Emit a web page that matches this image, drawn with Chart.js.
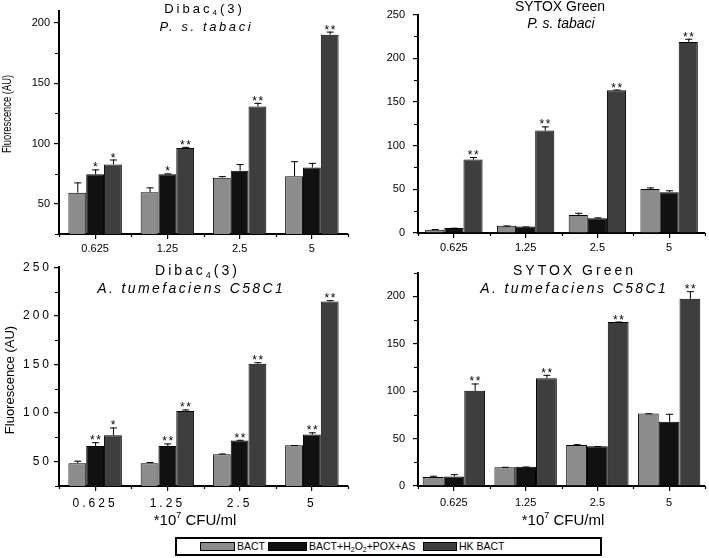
<!DOCTYPE html>
<html>
<head>
<meta charset="utf-8">
<script src="https://cdn.jsdelivr.net/npm/chart.js@4.4.0/dist/chart.umd.min.js"></script>
<style>
  body { margin: 0; background: #fff; width: 709px; height: 558px; position: relative; overflow: hidden; font-family: "Liberation Sans", Arial, sans-serif; }
  canvas { position: absolute; }
  #legend { position: absolute; left: 175px; top: 537px; width: 423px; height: 15px; border: 2px solid #000; background: #fff; }
  #legend .sw { position: absolute; top: 3px; height: 7px; border: 1px solid #000; }
  #legend .lb { position: absolute; top: 0; font-size: 10.5px; line-height: 15px; color: #000; white-space: nowrap; }
  #legend sub { font-size: 7px; vertical-align: -2px; line-height: 0; }
</style>
</head>
<body>
<canvas id="c1" width="354" height="258" style="left:0;top:0"></canvas>
<canvas id="c2" width="355" height="258" style="left:354px;top:0"></canvas>
<canvas id="c3" width="354" height="272" style="left:0;top:258px"></canvas>
<canvas id="c4" width="355" height="272" style="left:354px;top:258px"></canvas>
<div id="legend">
  <span class="sw" style="left:23px;width:33px;background:#8c8c8c"></span><span class="lb" style="left:60px">BACT</span>
  <span class="sw" style="left:91px;width:37px;background:#111"></span><span class="lb" style="left:132px">BACT+H<sub>2</sub>O<sub>2</sub>+POX+AS</span>
  <span class="sw" style="left:246px;width:32px;background:#3e3e3e"></span><span class="lb" style="left:282px">HK BACT</span>
</div>
<script>
const doses = ['0.625', '1.25', '2.5', '5'];
const seriesNames = ['BACT', 'BACT+H2O2+POX+AS', 'HK BACT'];
const seriesColors = ['#8c8c8c', '#111111', '#3e3e3e'];

// Dibac4(3) - P. s. tabaci
const dibacPsBact = [59.3, 59.6, 71.7, 73];
const dibacPsBactErr = [8.5, 4.1, 1.3, 12.4];
const dibacPsPox = [74.5, 74.5, 77.5, 80.2];
const dibacPsPoxErr = [4.1, 0.8, 5.5, 3.8];
const dibacPsHk = [82.7, 96.4, 130.8, 190.4];
const dibacPsHkErr = [4.1, 0.9, 3, 2.5];
const dibacPsPoxSig = ['*', '*', '', ''];
const dibacPsHkSig = ['*', '**', '**', '**'];

// SYTOX Green - P. s. tabaci
const sytoxPsBact = [3.7, 8.2, 20.5, 50.4];
const sytoxPsBactErr = [0.8, 0.4, 2.6, 1.8];
const sytoxPsPox = [5.6, 7.5, 16.8, 46.6];
const sytoxPsPoxErr = [0.4, 0, 1.1, 2.3];
const sytoxPsHk = [84, 117.2, 163.4, 218.6];
const sytoxPsHkErr = [3, 4.8, 0.8, 3.8];
const sytoxPsHkSig = ['**', '**', '**', '**'];

// Dibac4(3) - A. tumefaciens C58C1
const dibacAtBact = [48.3, 48.3, 57.7, 66.8];
const dibacAtBactErr = [2.7, 1.4, 0.7, 0.3];
const dibacAtPox = [66.1, 66.1, 71.8, 77.9];
const dibacAtPoxErr = [4, 2.7, 0.7, 2.3];
const dibacAtHk = [77.2, 102, 150.7, 214.8];
const dibacAtHkErr = [8, 1.7, 1.6, 1.3];
const dibacAtPoxSig = ['**', '**', '**', '**'];
const dibacAtHkSig = ['*', '**', '**', '**'];

// SYTOX Green - A. tumefaciens C58C1
const sytoxAtBact = [9.4, 19.9, 43.1, 76.4];
const sytoxAtBactErr = [1.4, 0.3, 1, 0.3];
const sytoxAtPox = [10.1, 20.2, 41.8, 67.7];
const sytoxAtPoxErr = [2.4, 0.3, 0.3, 8.4];
const sytoxAtHk = [100.3, 113.5, 173, 197.3];
const sytoxAtHkErr = [7.8, 3.7, 0.4, 8.1];
const sytoxAtHkSig = ['**', '**', '**', '**'];

const noSig = ['', '', '', ''];
const FONT = '"Liberation Sans", Arial, sans-serif';

// draw a line of text made of runs (normal / subscript / superscript), centred at cx
function drawRuns(ctx, runs, cx, cy, size, spacing, italic) {
  ctx.save();
  ctx.letterSpacing = spacing + 'px';
  ctx.fillStyle = '#000';
  ctx.textAlign = 'left';
  ctx.textBaseline = 'middle';
  const fontFor = r => (italic ? 'italic ' : '') + (r.sub || r.sup ? Math.round(size * 0.62) : size) + 'px ' + FONT;
  const widths = runs.map(r => { ctx.font = fontFor(r); return ctx.measureText(r.t).width; });
  let x = cx - widths.reduce((a, b) => a + b, 0) / 2 + spacing / 2;
  runs.forEach((r, k) => {
    ctx.font = fontFor(r);
    const dy = r.sub ? size * 0.3 : r.sup ? -size * 0.35 : 0;
    ctx.fillText(r.t, x, cy + dy);
    x += widths[k];
  });
  ctx.restore();
}

const annot = {
  id: 'annot',
  beforeDraw(chart, args, o) {
    chart.ctx.letterSpacing = (o.tickSpacing || 0) + 'px';
  },
  afterDatasetsDraw(chart, args, o) {
    const ctx = chart.ctx;
    const ys = chart.scales.y;
    ctx.save();
    ctx.letterSpacing = '0px';
    ctx.strokeStyle = '#000';
    ctx.lineWidth = 1;
    chart.data.datasets.forEach((ds, i) => {
      chart.getDatasetMeta(i).data.forEach((bar, j) => {
        const top = ys.getPixelForValue(ds.data[j] + o.err[i][j]);
        ctx.beginPath();
        ctx.moveTo(bar.x + 0.5, bar.y);
        ctx.lineTo(bar.x + 0.5, top);
        ctx.moveTo(bar.x - 3, top + 0.5);
        ctx.lineTo(bar.x + 4, top + 0.5);
        ctx.stroke();
        const s = o.sig[i][j];
        if (s) {
          ctx.letterSpacing = '1.5px';
          ctx.font = '12px ' + FONT;
          ctx.fillStyle = '#000';
          ctx.textAlign = 'center';
          ctx.textBaseline = 'alphabetic';
          ctx.fillText(s, bar.x + 1, top + 2);
          ctx.letterSpacing = '0px';
        }
      });
    });
    ctx.restore();
  },
  afterDraw(chart, args, o) {
    const ctx = chart.ctx;
    const ys = chart.scales.y, xs = chart.scales.x;
    const area = chart.chartArea;
    ctx.letterSpacing = '0px';
    ctx.save();
    ctx.strokeStyle = '#000';
    ctx.lineWidth = 1.2;
    ctx.beginPath();
    // minor ticks on the value axis
    for (let v = Math.ceil(ys.min / 25) * 25; v <= ys.max; v += 25) {
      if (v % 50 === 0) continue;
      const p = Math.round(ys.getPixelForValue(v)) + 0.5;
      ctx.moveTo(area.left - 4, p);
      ctx.lineTo(area.left, p);
    }
    // minor ticks between categories
    for (let i = 0; i <= doses.length; i++) {
      const p = Math.round(xs.getPixelForValue(i - 0.5)) + 0.5;
      ctx.moveTo(p, area.bottom);
      ctx.lineTo(p, area.bottom + 3);
    }
    ctx.stroke();
    ctx.restore();

    o.titles.forEach(t => drawRuns(ctx, t.runs, t.x, t.y, t.size, t.spacing, t.italic));

    if (o.yTitle) {
      const t = o.yTitle;
      ctx.save();
      ctx.letterSpacing = '0px';
      ctx.translate(t.x, t.y);
      ctx.rotate(-Math.PI / 2);
      ctx.scale(t.squeeze, 1);
      ctx.font = t.size + 'px ' + FONT;
      ctx.fillStyle = '#000';
      ctx.textAlign = 'center';
      ctx.textBaseline = 'middle';
      ctx.fillText('Fluorescence (AU)', 0, 0);
      ctx.restore();
    }
    if (o.xTitle) {
      drawRuns(ctx, [{ t: '*10' }, { t: '7', sup: true }, { t: ' CFU/ml' }], o.xTitle.x, o.xTitle.y, 15, 0, false);
    }
  }
};

function makeChart(id, p) {
  const values = [p.bact, p.pox, p.hk];
  new Chart(document.getElementById(id), {
    type: 'bar',
    data: {
      labels: doses,
      datasets: values.map((v, i) => ({
        label: seriesNames[i],
        data: v,
        backgroundColor: seriesColors[i],
        borderColor: '#000',
        borderWidth: 1,
        borderSkipped: 'start',
        barPercentage: 1,
        categoryPercentage: p.catPct
      }))
    },
    options: {
      responsive: false,
      animation: false,
      devicePixelRatio: 1,
      layout: { padding: { top: p.padTop, right: p.padRight, left: 0, bottom: 0 } },
      plugins: {
        legend: { display: false },
        tooltip: { enabled: false },
        annot: {
          err: [p.bactErr, p.poxErr, p.hkErr],
          sig: [noSig, p.poxSig, p.hkSig],
          titles: p.titles,
          yTitle: p.yTitle,
          xTitle: p.xTitle,
          tickSpacing: p.tickSpacing
        }
      },
      scales: {
        x: {
          type: 'category',
          offset: true,
          grid: { offset: false, drawOnChartArea: false, drawTicks: true, tickLength: 5, color: '#000', lineWidth: 1.2 },
          border: { display: true, color: '#000', width: 2 },
          ticks: { color: '#000', font: { size: p.tickSize, family: FONT }, padding: p.xPad, maxRotation: 0, autoSkip: false },
          afterFit: s => { s.height = p.xHeight; }
        },
        y: {
          min: p.min,
          max: p.max,
          grid: { drawOnChartArea: false, drawTicks: true, tickLength: 5, color: '#000', lineWidth: 1.2 },
          border: { display: true, color: '#000', width: 2 },
          ticks: { color: '#000', font: { size: p.tickSize, family: FONT }, padding: p.yPad },
          afterBuildTicks: s => {
            const t = [];
            for (let v = Math.ceil(p.min / 50) * 50; v <= p.max; v += 50) t.push({ value: v });
            s.ticks = t;
          },
          afterFit: s => { s.width = p.yWidth; }
        }
      }
    },
    plugins: [annot]
  });
}

makeChart('c1', {
  bact: dibacPsBact, bactErr: dibacPsBactErr, pox: dibacPsPox, poxErr: dibacPsPoxErr, hk: dibacPsHk, hkErr: dibacPsHkErr,
  poxSig: dibacPsPoxSig, hkSig: dibacPsHkSig,
  min: 25, max: 210, catPct: 0.74, padTop: 11, padRight: 6, yWidth: 59, xHeight: 24, yPad: 4, xPad: 3, tickSize: 11, tickSpacing: 0,
  titles: [
    { runs: [{ t: 'Dibac' }, { t: '4', sub: true }, { t: '(3)' }], x: 203, y: 9, size: 13, spacing: 3, italic: false },
    { runs: [{ t: 'P. s. tabaci' }], x: 205, y: 27, size: 13, spacing: 2.6, italic: true }
  ],
  yTitle: { x: 8, y: 114, size: 12, squeeze: 0.78 }
});

makeChart('c2', {
  bact: sytoxPsBact, bactErr: sytoxPsBactErr, pox: sytoxPsPox, poxErr: sytoxPsPoxErr, hk: sytoxPsHk, hkErr: sytoxPsHkErr,
  poxSig: noSig, hkSig: sytoxPsHkSig,
  min: 0, max: 250, catPct: 0.8, padTop: 10, padRight: 4, yWidth: 64, xHeight: 25, yPad: 8, xPad: 3, tickSize: 11, tickSpacing: 0,
  titles: [
    { runs: [{ t: 'SYTOX Green' }], x: 206, y: 7, size: 14, spacing: 0, italic: false },
    { runs: [{ t: 'P. s. tabaci' }], x: 207, y: 24.5, size: 14, spacing: 0, italic: true }
  ]
});

makeChart('c3', {
  bact: dibacAtBact, bactErr: dibacAtBactErr, pox: dibacAtPox, poxErr: dibacAtPoxErr, hk: dibacAtHk, hkErr: dibacAtHkErr,
  poxSig: dibacAtPoxSig, hkSig: dibacAtHkSig,
  min: 25, max: 250, catPct: 0.74, padTop: 5, padRight: 6, yWidth: 59, xHeight: 44, yPad: 2, xPad: 5, tickSize: 12, tickSpacing: 3,
  titles: [
    { runs: [{ t: 'Dibac' }, { t: '4', sub: true }, { t: '(3)' }], x: 196, y: 13.5, size: 14, spacing: 3, italic: false },
    { runs: [{ t: 'A. tumefaciens C58C1' }], x: 190, y: 31.5, size: 14, spacing: 2.4, italic: true }
  ],
  yTitle: { x: 10, y: 122, size: 13, squeeze: 1 },
  xTitle: { x: 195, y: 263 }
});

makeChart('c4', {
  bact: sytoxAtBact, bactErr: sytoxAtBactErr, pox: sytoxAtPox, poxErr: sytoxAtPoxErr, hk: sytoxAtHk, hkErr: sytoxAtHkErr,
  poxSig: noSig, hkSig: sytoxAtHkSig,
  min: 0, max: 225, catPct: 0.87, padTop: 5, padRight: 4, yWidth: 64, xHeight: 44, yPad: 8, xPad: 5, tickSize: 11, tickSpacing: 0,
  titles: [
    { runs: [{ t: 'SYTOX Green' }], x: 219, y: 13.5, size: 14, spacing: 3, italic: false },
    { runs: [{ t: 'A. tumefaciens C58C1' }], x: 219, y: 31.5, size: 14, spacing: 2.4, italic: true }
  ],
  xTitle: { x: 209, y: 263 }
});
</script>
</body>
</html>
